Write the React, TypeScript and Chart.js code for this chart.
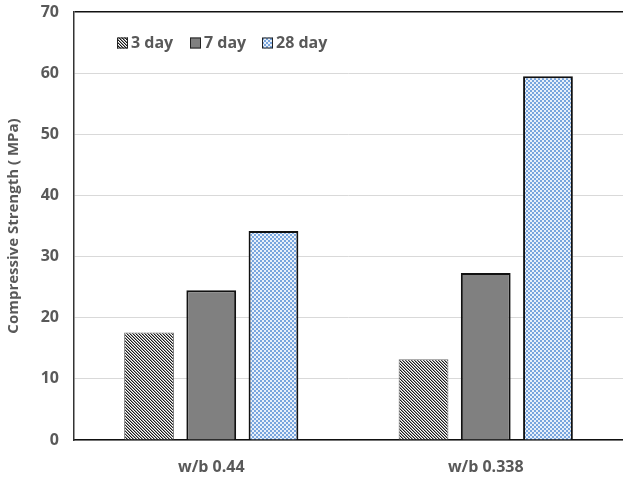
import React, { useEffect, useRef } from "react";
import { Chart, registerables } from "chart.js";

Chart.register(...registerables);

const categories = ["w/b 0.44", "w/b 0.338"];
const seriesNames = ["3 day", "7 day", "28 day"];
const day3 = [17.6, 13.2];
const day7 = [24.5, 27.3];
const day28 = [34.2, 59.5];
const yTicks = [0, 10, 20, 30, 40, 50, 60, 70];

const FONT = "'Open Sans', 'DejaVu Sans', sans-serif";
const TXT = "#595959";

function makeHatch(): CanvasPattern | string {
  const c = document.createElement("canvas");
  c.width = 3;
  c.height = 3;
  const g = c.getContext("2d");
  if (!g) return "#777";
  const cols = ["#1a1a1a", "#9a9a9a", "#ffffff"];
  for (let y = 0; y < 3; y++) {
    for (let x = 0; x < 3; x++) {
      const d = (((x - y) % 3) + 3) % 3;
      g.fillStyle = cols[d];
      g.fillRect(x, y, 1, 1);
    }
  }
  return g.createPattern(c, "repeat") || "#777";
}

function makeCheck(): CanvasPattern | string {
  const c = document.createElement("canvas");
  c.width = 4;
  c.height = 4;
  const g = c.getContext("2d");
  if (!g) return "#9dc3e6";
  g.fillStyle = "#e8f0fa";
  g.fillRect(0, 0, 4, 4);
  g.fillStyle = "#78a5dd";
  g.fillRect(0, 0, 2, 2);
  g.fillRect(2, 2, 2, 2);
  return g.createPattern(c, "repeat") || "#9dc3e6";
}

export default function App() {
  const ref = useRef<HTMLCanvasElement | null>(null);

  useEffect(() => {
    document.body.style.margin = "0";
    const canvas = ref.current;
    if (!canvas) return;
    const hatch = makeHatch();
    const check = makeCheck();
    const fills = [hatch, "#808080", check];
    const borders = ["#6e6e6e", "#111111", "#111111"];
    const bw = [1, 2, 2];

    const legendPlugin = {
      id: "customLegend",
      afterDraw(chart: any) {
        const ctx = chart.ctx;
        ctx.save();
        ctx.font = `bold 16px ${FONT}`;
        ctx.textBaseline = "middle";
        const y = 43;
        const xs = [117, 190, 262];
        for (let i = 0; i < 3; i++) {
          const x = xs[i];
          ctx.fillStyle = fills[i] as any;
          ctx.fillRect(x, y - 5.5, 11, 11);
          ctx.strokeStyle = "#222";
          ctx.lineWidth = 1;
          ctx.strokeRect(x + 0.5, y - 5, 10, 10);
          ctx.fillStyle = TXT;
          ctx.textAlign = "left";
          ctx.fillText(seriesNames[i], x + 14, y);
        }
        ctx.restore();
      },
    };

    const chart = new Chart(canvas, {
      type: "bar",
      data: {
        labels: categories,
        datasets: [day3, day7, day28].map((d, i) => ({
          label: seriesNames[i],
          data: d,
          backgroundColor: fills[i] as any,
          borderColor: borders[i],
          borderWidth: bw[i],
          barPercentage: 0.8,
          categoryPercentage: 0.68,
        })),
      },
      options: {
        responsive: false,
        animation: false,
        devicePixelRatio: 1,
        layout: { padding: { top: 12, right: -3, left: 0, bottom: 0 } },
        plugins: {
          legend: { display: false },
          tooltip: { enabled: false },
        },
        scales: {
          x: {
            grid: { display: false, drawTicks: false },
            border: { display: true, color: "#111", width: 1.5 },
            ticks: {
              color: TXT,
              font: { family: FONT, size: 16, weight: "bold" },
              padding: 18,
            },
            afterFit: (s: any) => {
              s.height = 37;
              s.paddingLeft = 0;
              s.paddingRight = 0;
            },
          },
          y: {
            min: 0,
            max: 70,
            afterBuildTicks: (s: any) => {
              s.ticks = yTicks.map((v) => ({ value: v }));
            },
            grid: {
              drawTicks: false,
              color: (c: any) =>
                c.tick && c.tick.value === 70 ? "#111" : "#d9d9d9",
              lineWidth: (c: any) => (c.tick && c.tick.value === 70 ? 1.5 : 1),
            },
            border: { display: true, color: "#333", width: 1.5 },
            ticks: {
              color: TXT,
              font: { family: FONT, size: 16, weight: "bold" },
              padding: 15,
            },
            title: {
              display: true,
              text: "Compressive Strength ( MPa)",
              color: TXT,
              font: { family: FONT, size: 15, weight: "bold" },
              padding: { top: 5, bottom: 0 },
            },
            afterFit: (s: any) => {
              s.width = 74;
              s.paddingTop = 0;
              s.paddingBottom = 0;
            },
          },
        },
      },
      plugins: [legendPlugin],
    });
    return () => chart.destroy();
  }, []);

  return (
    <div style={{ position: "absolute", left: 0, top: 0, width: 623, height: 477 }}>
      <canvas ref={ref} width={623} height={477} style={{ width: 623, height: 477 }} />
    </div>
  );
}
